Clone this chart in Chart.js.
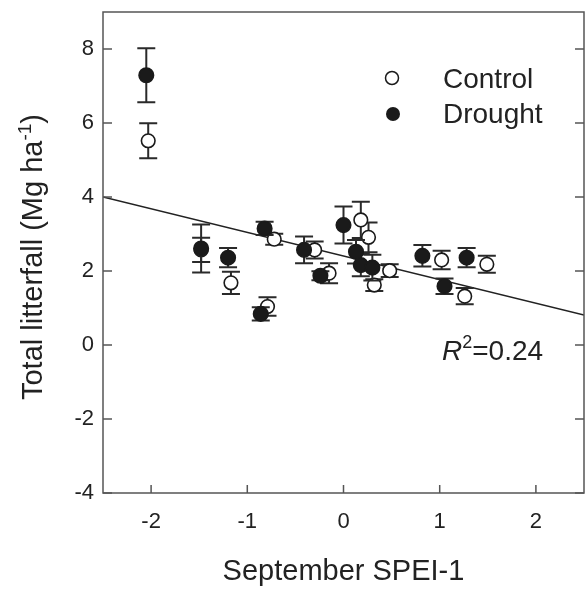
<!DOCTYPE html>
<html>
<head>
<meta charset="utf-8">
<script src="https://cdn.jsdelivr.net/npm/chart.js@4.4.1/dist/chart.umd.min.js"></script>
<style>
  body { margin: 0; background: #fff; }
  canvas { display: block; }
</style>
</head>
<body>
<canvas id="litterChart" width="585" height="590"></canvas>
<script>
// values
var controlX = [-2.03, -1.48, -1.17, -0.79, -0.72, -0.30, -0.15, 0.18, 0.26, 0.32, 0.48, 1.02, 1.26, 1.49];
var controlY = [5.52, 2.57, 1.68, 1.04, 2.86, 2.57, 1.94, 3.38, 2.91, 1.62, 2.01, 2.30, 1.32, 2.18];
var controlErr = [0.47, 0.33, 0.30, 0.25, 0.15, 0.23, 0.27, 0.49, 0.40, 0.16, 0.17, 0.25, 0.22, 0.23];

var droughtX = [-2.05, -1.48, -1.20, -0.86, -0.82, -0.41, -0.24, 0.00, 0.13, 0.18, 0.30, 0.82, 1.05, 1.28];
var droughtY = [7.29, 2.61, 2.36, 0.84, 3.15, 2.57, 1.87, 3.24, 2.52, 2.16, 2.09, 2.41, 1.59, 2.36];
var droughtErr = [0.73, 0.65, 0.26, 0.18, 0.18, 0.36, 0.12, 0.50, 0.32, 0.30, 0.35, 0.29, 0.21, 0.26];

// regression line end points
var fitX = [-2.5, 2.5];
var fitY = [4.0, 0.81];

var xTicks = [-2, -1, 0, 1, 2];
var yTicks = [-4, -2, 0, 2, 4, 6, 8];

var FONT = "'Liberation Sans', Arial, sans-serif";
var INK = '#222';

function toPoints(xs, ys) {
    return xs.map(function(x, i) { return { x: x, y: ys[i] }; });
}

function noPadding(scale) {
    scale.paddingTop = 0;
    scale.paddingBottom = 0;
    scale.paddingLeft = 0;
    scale.paddingRight = 0;
}

// error bars, drawn under each dataset's markers
var errorBars = {
    id: 'errorBars',
    beforeDatasetDraw: function(chart, args) {
        var ds = chart.data.datasets[args.index];
        if (!ds.errors) return;
        var ctx = chart.ctx;
        var xs = chart.scales.x, ys = chart.scales.y;
        ctx.save();
        ctx.strokeStyle = '#2a2a2a';
        ctx.lineWidth = 2;
        ds.data.forEach(function(p, i) {
            var px = xs.getPixelForValue(p.x);
            var top = ys.getPixelForValue(p.y + ds.errors[i]);
            var bot = ys.getPixelForValue(p.y - ds.errors[i]);
            ctx.beginPath();
            ctx.moveTo(px, top); ctx.lineTo(px, bot);
            ctx.moveTo(px - 9, top); ctx.lineTo(px + 9, top);
            ctx.moveTo(px - 9, bot); ctx.lineTo(px + 9, bot);
            ctx.stroke();
        });
        ctx.restore();
    }
};

// frame, inward ticks, titles, legend, R2 label
var decorations = {
    id: 'decorations',
    afterDraw: function(chart) {
        var ctx = chart.ctx;
        var a = chart.chartArea;
        var xs = chart.scales.x, ys = chart.scales.y;
        ctx.save();
        ctx.strokeStyle = '#555';
        ctx.lineWidth = 1.5;
        ctx.strokeRect(a.left, a.top, a.right - a.left, a.bottom - a.top);
        ctx.beginPath();
        yTicks.forEach(function(v) {
            var py = ys.getPixelForValue(v);
            ctx.moveTo(a.left, py); ctx.lineTo(a.left + 9, py);
            ctx.moveTo(a.right, py); ctx.lineTo(a.right - 9, py);
        });
        xTicks.forEach(function(v) {
            var px = xs.getPixelForValue(v);
            ctx.moveTo(px, a.bottom); ctx.lineTo(px, a.bottom - 8);
        });
        ctx.stroke();

        ctx.fillStyle = INK;
        ctx.textBaseline = 'alphabetic';

        // x title
        ctx.font = '29px ' + FONT;
        ctx.textAlign = 'center';
        ctx.fillText('September SPEI-1', (a.left + a.right) / 2, 580);

        // y title with superscript
        ctx.save();
        ctx.translate(42, 257);
        ctx.rotate(-Math.PI / 2);
        ctx.textAlign = 'left';
        var p1 = 'Total litterfall (Mg ha', sup = '-1', p2 = ')';
        ctx.font = '29px ' + FONT;
        var w1 = ctx.measureText(p1).width, w3 = ctx.measureText(p2).width;
        ctx.font = '19px ' + FONT;
        var w2 = ctx.measureText(sup).width;
        var sx = -(w1 + w2 + w3) / 2;
        ctx.font = '29px ' + FONT;
        ctx.fillText(p1, sx, 0);
        ctx.font = '19px ' + FONT;
        ctx.fillText(sup, sx + w1, -11);
        ctx.font = '29px ' + FONT;
        ctx.fillText(p2, sx + w1 + w2, 0);
        ctx.restore();

        // R2 label
        ctx.textAlign = 'left';
        var rx = 442;
        ctx.font = 'italic 28px ' + FONT;
        ctx.fillText('R', rx, 360);
        rx += ctx.measureText('R').width;
        ctx.font = '18px ' + FONT;
        ctx.fillText('2', rx, 348);
        rx += ctx.measureText('2').width;
        ctx.font = '28px ' + FONT;
        ctx.fillText('=0.24', rx, 360);

        // legend
        ctx.lineWidth = 1.5;
        ctx.strokeStyle = '#1a1a1a';
        ctx.beginPath();
        ctx.arc(392, 78, 6.5, 0, Math.PI * 2);
        ctx.fillStyle = '#fff';
        ctx.fill();
        ctx.stroke();
        ctx.beginPath();
        ctx.arc(393, 114, 7, 0, Math.PI * 2);
        ctx.fillStyle = '#1a1a1a';
        ctx.fill();
        ctx.fillStyle = INK;
        ctx.font = '28px ' + FONT;
        ctx.fillText('Control', 443, 87.5);
        ctx.fillText('Drought', 443, 122.5);
        ctx.restore();
    }
};

var ctx = document.getElementById('litterChart').getContext('2d');
var litterChart = new Chart(ctx, {
    type: 'scatter',
    data: {
        datasets: [
            {
                label: 'Drought',
                data: toPoints(droughtX, droughtY),
                errors: droughtErr,
                backgroundColor: '#1a1a1a',
                borderColor: '#1a1a1a',
                borderWidth: 1.5,
                pointRadius: 7.3,
                order: 0
            },
            {
                label: 'Control',
                data: toPoints(controlX, controlY),
                errors: controlErr,
                backgroundColor: '#fff',
                borderColor: '#1a1a1a',
                borderWidth: 1.6,
                pointRadius: 6.8,
                order: 1
            },
            {
                label: 'Fit',
                type: 'line',
                data: toPoints(fitX, fitY),
                borderColor: '#222',
                borderWidth: 1.5,
                pointRadius: 0,
                fill: false,
                order: 2
            }
        ]
    },
    options: {
        responsive: false,
        animation: false,
        layout: { autoPadding: false, padding: { top: 12, right: 1, left: 0, bottom: 0 } },
        plugins: {
            legend: { display: false },
            tooltip: { enabled: false }
        },
        scales: {
            x: {
                type: 'linear',
                min: -2.5,
                max: 2.5,
                afterFit: function(scale) { scale.height = 97; noPadding(scale); },
                afterBuildTicks: function(scale) {
                    scale.ticks = xTicks.map(function(v) { return { value: v }; });
                },
                grid: { display: false, drawTicks: false },
                border: { display: false },
                ticks: {
                    padding: 16,
                    color: INK,
                    font: { family: FONT, size: 22 }
                }
            },
            y: {
                type: 'linear',
                min: -4,
                max: 9,
                afterFit: function(scale) { scale.width = 103; noPadding(scale); },
                afterBuildTicks: function(scale) {
                    scale.ticks = yTicks.map(function(v) { return { value: v }; });
                },
                grid: { display: false, drawTicks: false },
                border: { display: false },
                ticks: {
                    padding: 9,
                    color: INK,
                    font: { family: FONT, size: 22 }
                }
            }
        }
    },
    plugins: [errorBars, decorations]
});
</script>
</body>
</html>
